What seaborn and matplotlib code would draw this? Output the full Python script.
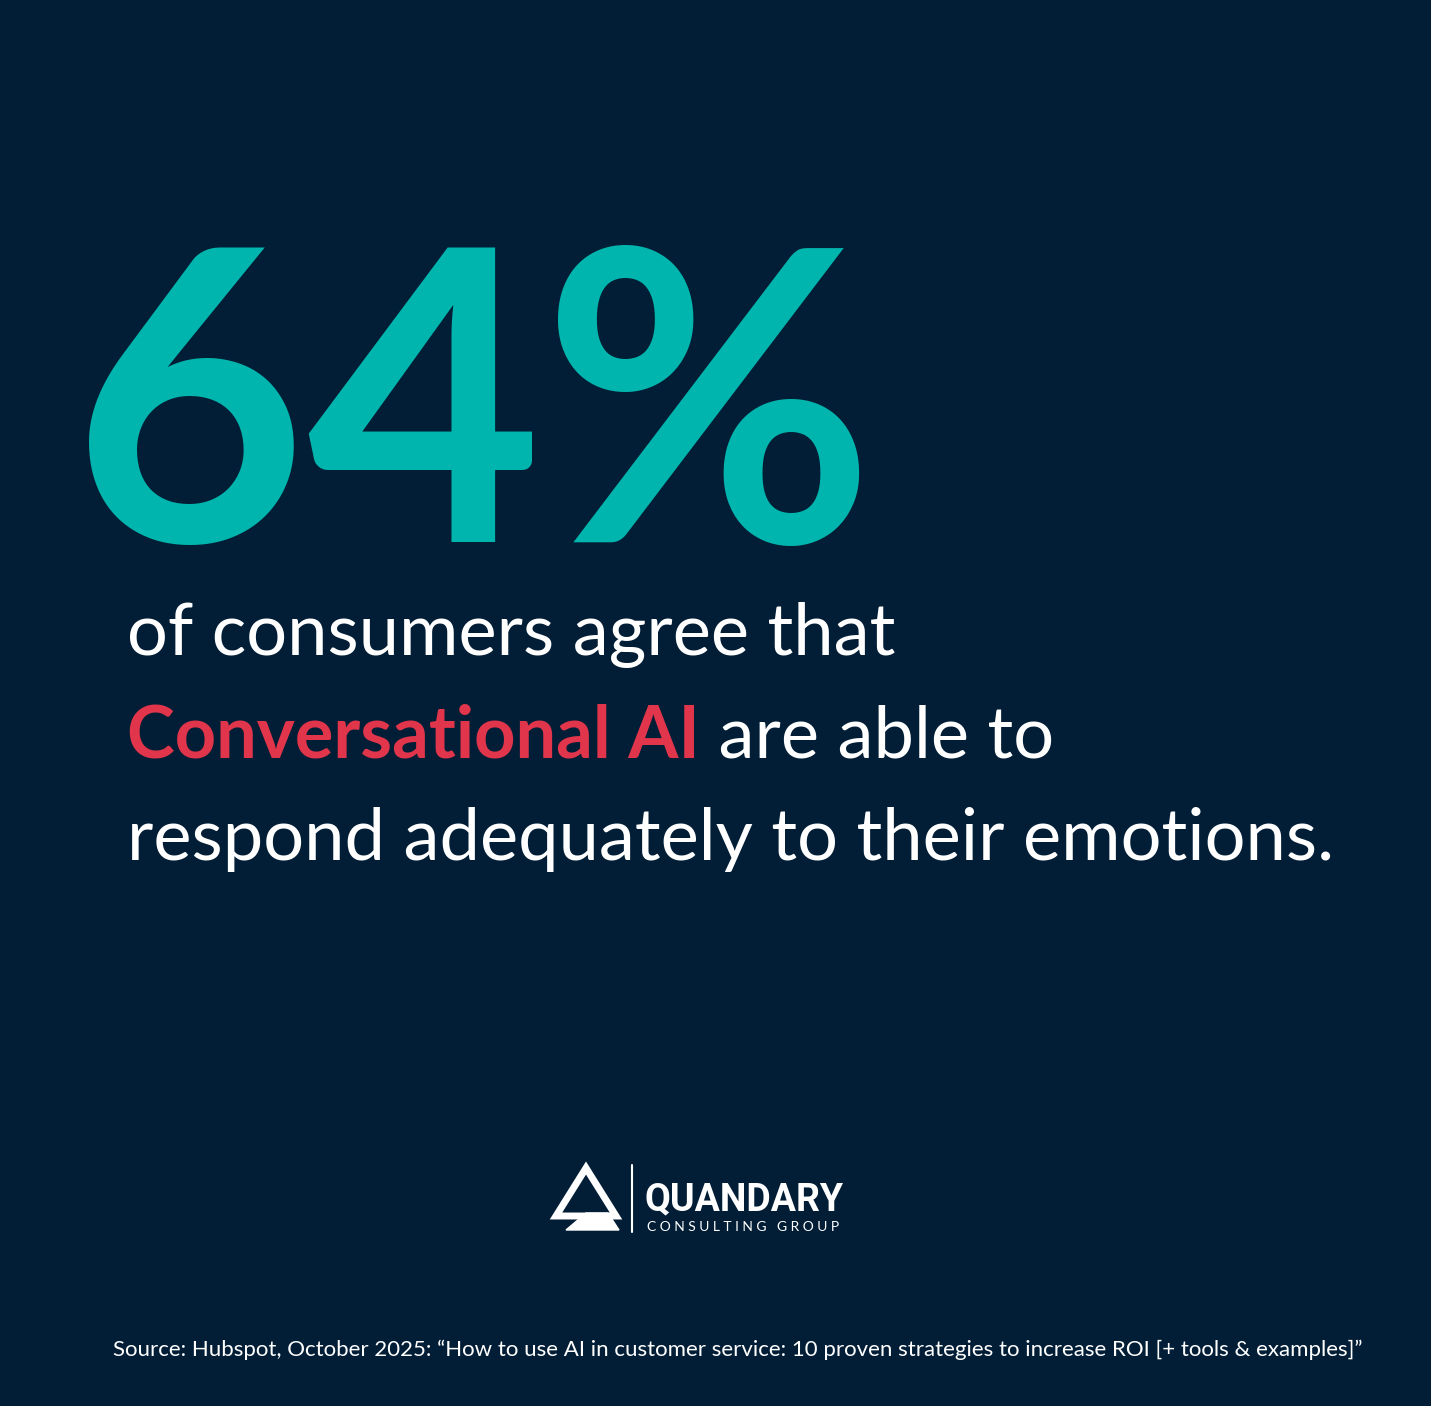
import matplotlib
matplotlib.use("Agg")
import matplotlib.pyplot as plt
import seaborn as sns
from matplotlib.patches import Polygon

# data / text
stat_value = 64
line1 = "of consumers agree that"
highlight = "Conversational AI"
line2_rest = " are able to"
line3 = "respond adequately to their emotions."
brand = "QUANDARY"
brand_sub = "C O N S U L T I N G   G R O U P"
source = ("Source: Hubspot, October 2025: \u201cHow to use AI in customer service: "
          "10 proven strategies to increase ROI [+ tools & examples]\u201d")

BG = "#021e36"
TEAL = "#00b5ad"
RED = "#e0354b"

sns.set_theme(style="white")
plt.rcParams['font.family'] = ['Lato', 'DejaVu Sans']

fig = plt.figure(figsize=(14.31, 14.06), dpi=100, facecolor=BG)
ax = fig.add_axes([0, 0, 1, 1])
ax.set_facecolor(BG)
ax.set_xlim(0, 1431)
ax.set_ylim(1406, 0)
ax.axis("off")

ax.text(72, 542, f"{stat_value}%", color=TEAL, fontsize=292, fontweight="bold",
        ha="left", va="baseline")

body = dict(fontsize=52, color="white", va="baseline", ha="left")
ax.text(127, 655, line1, **body)
t = ax.text(127, 757, highlight, fontsize=52, color=RED, fontweight="bold",
            va="baseline", ha="left")
fig.canvas.draw()
bb = t.get_window_extent().transformed(ax.transData.inverted())
ax.text(bb.x1, 757, line2_rest, **body)
ax.text(127, 860, line3, **body)

# logo
ax.add_patch(Polygon([[556, 1216], [586, 1168], [616, 1216]], closed=True,
                     fill=False, edgecolor="white", lw=5))
ax.add_patch(Polygon([[566, 1230], [619, 1230], [608, 1213], [586, 1213]],
                     closed=True, color="white"))
ax.plot([632, 632], [1165, 1232], color="white", lw=1.5)
ax.text(645, 1210, brand, fontsize=27, color="white", fontweight="bold",
        family=["Roboto", "DejaVu Sans"], va="baseline", ha="left")
ax.text(647, 1231, brand_sub, fontsize=10, color="white", va="baseline",
        ha="left")

ax.text(738, 1356, source, fontsize=16, color="white", ha="center",
        va="baseline")

fig.savefig("out.png", dpi=100, facecolor=BG)
